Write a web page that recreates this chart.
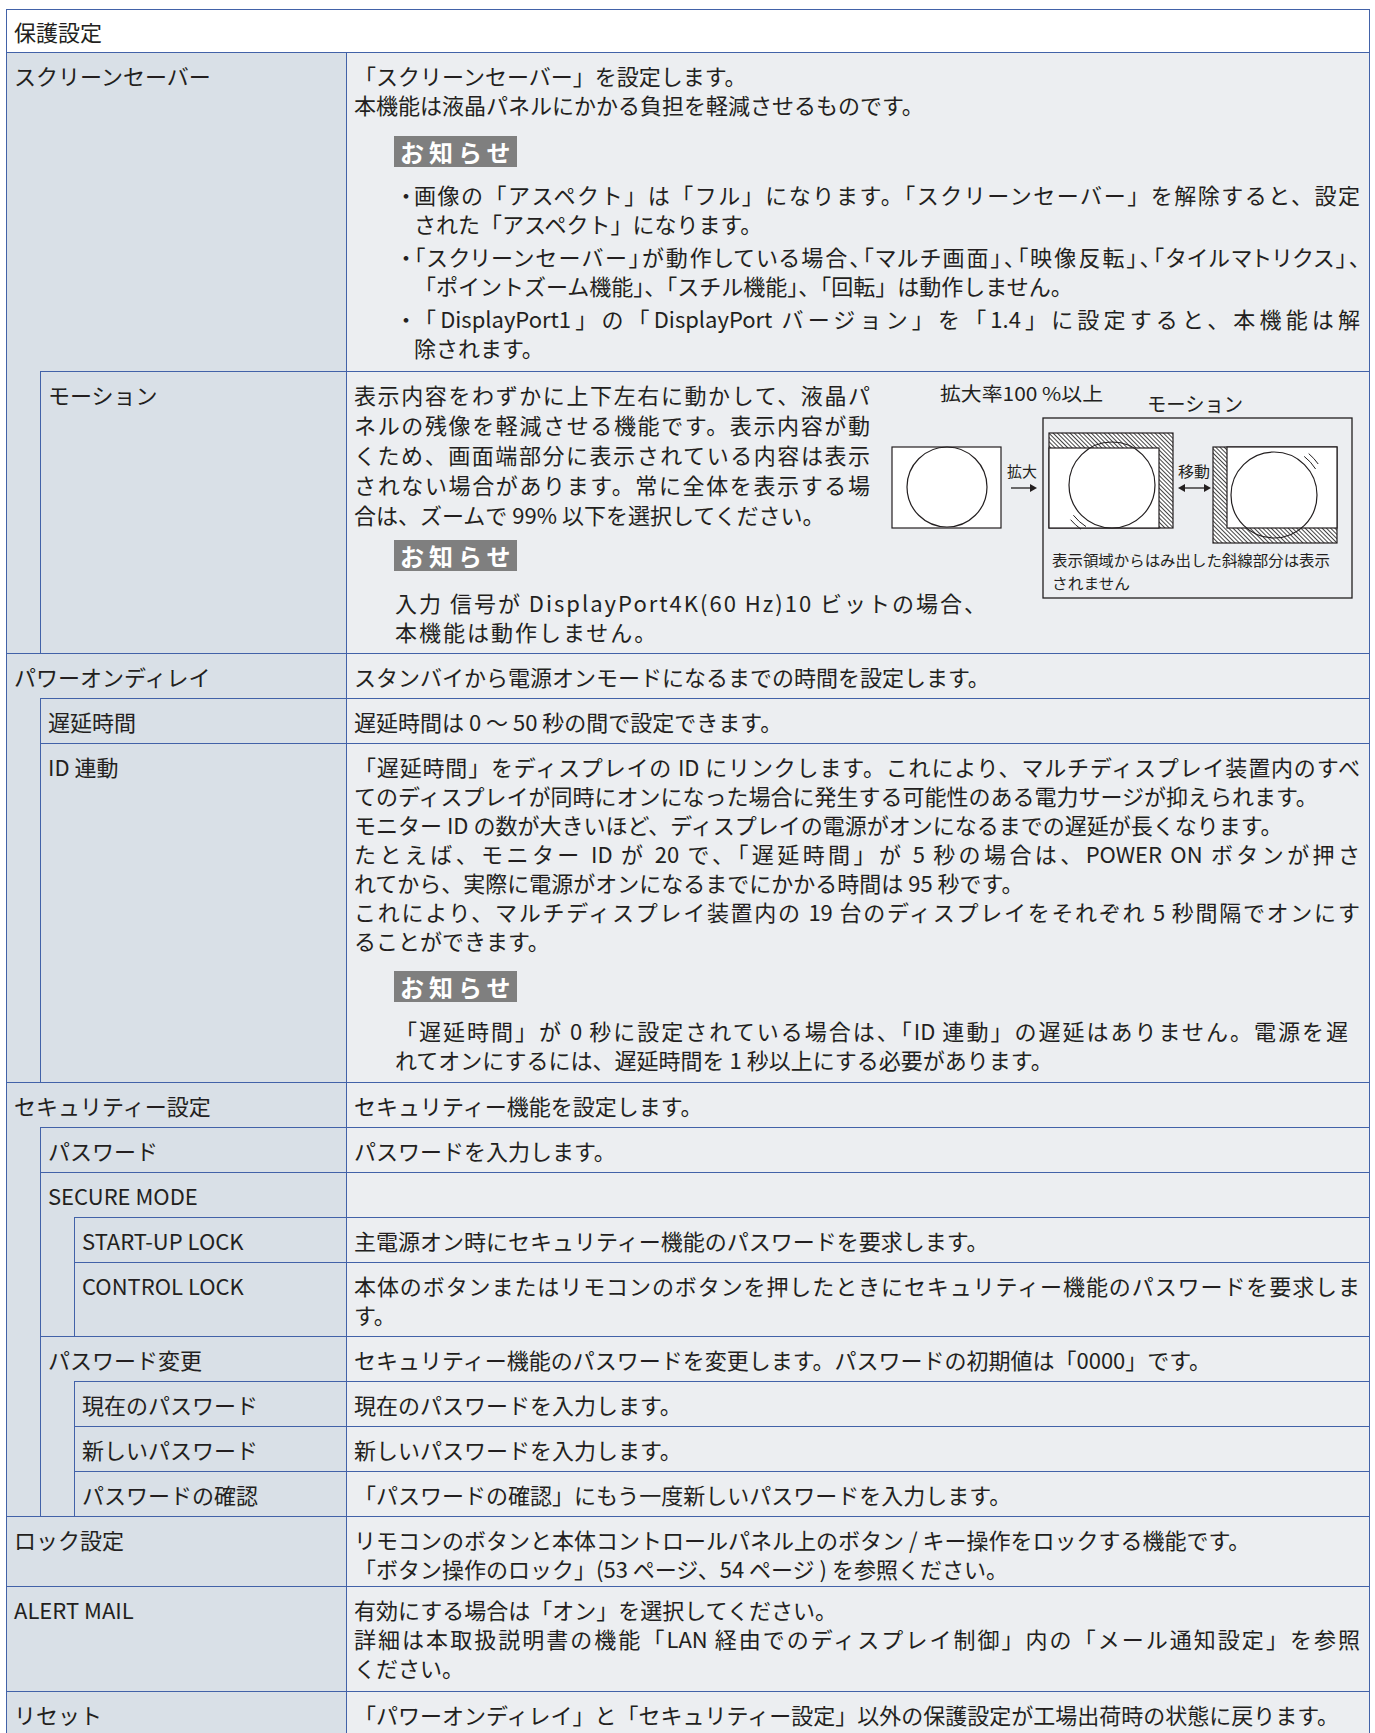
<!DOCTYPE html>
<html lang="ja">
<head>
<meta charset="utf-8">
<title>保護設定</title>
<script src="https://cdn.jsdelivr.net/npm/chart.js@4.4.1/dist/chart.umd.min.js"></script>
<style>
  html, body { margin: 0; background: #fff; overflow: hidden; }
  body {
    font-family: "Noto Sans CJK JP", "Noto Sans", sans-serif;
    color: #231f20;
    font-size: 22px;
    line-height: 29px;
  }
  #tbl {
    position: absolute; left: 6px; top: 9px; width: 1364px;
    box-sizing: border-box;
    border: 1px solid #4262a8; border-bottom: none;
  }
  .hdr { background: #fff; padding: 7px 7px 6px; }
  .row { display: flex; }
  .left { width: 339px; flex: none; display: flex; background: #d9e0e7; }
  .gut { width: 33px; flex: none; }
  .gut + .gut { border-left: 1px solid #4262a8; }
  .lab { flex: 1; border-top: 1px solid #4262a8; padding: 8px 7px 7px; white-space: nowrap; }
  .lab.sub { border-left: 1px solid #4262a8; }
  .right {
    flex: 1; position: relative; background: #eceef1;
    border-left: 1px solid #4262a8; border-top: 1px solid #4262a8;
    padding: 8px 9px 7px 7px;
  }
  .ln.j { text-align: justify; text-align-last: justify; }
  .badge {
    width: fit-content; margin-left: 40px; background: #7f7f7f; color: #fff;
    font-weight: 700; font-size: 24px; height: 31px; line-height: 31px;
    padding: 0 1px 0 6px; letter-spacing: 5px;
  }
  .note { margin-left: 41px; margin-right: 12px; }
  .bul { display: flex; margin-left: 41px; margin-top: 4px; }
  .bul .dot { width: 19px; flex: none; }
  .bul .txt { flex: 1; }
  .r0 { padding-bottom: 9px; }
  .r0 .badge { margin-top: 17px; }
  .r0 .bullets { margin-top: 13px; }
  .r1 { padding-top: 7px; }
  .r1 .motion { width: 516px; line-height: 30px; }
  .r1 .badge { margin-top: 11px; }
  .r1 .note { margin-top: 17px; letter-spacing: 2px; }
  .r4 { padding-bottom: 8px; }
  .r4 .badge { margin-top: 16px; }
  .r4 .note { margin-top: 14px; }
  .r14 { padding-bottom: 3px; }
  .r15 { padding-bottom: 9px; }
  #diagram { position: absolute; left: 533px; top: -1px; }
</style>
</head>
<body>
<div id="tbl"></div>
<script>
const sectionTitle = '保護設定';

const itemLabels = [
  'スクリーンセーバー', 'モーション', 'パワーオンディレイ', '遅延時間', 'ID 連動',
  'セキュリティー設定', 'パスワード', 'SECURE MODE', 'START-UP LOCK', 'CONTROL LOCK',
  'パスワード変更', '現在のパスワード', '新しいパスワード', 'パスワードの確認',
  'ロック設定', 'ALERT MAIL', 'リセット',
];

const itemLevels = [0, 1, 0, 1, 1, 0, 1, 1, 2, 2, 1, 2, 2, 2, 0, 0, 0];

// each item: paragraphs, each paragraph: lines as printed
const itemTexts = [
  [['「スクリーンセーバー」を設定します。'], ['本機能は液晶パネルにかかる負担を軽減させるものです。']],
  [[
    '表示内容をわずかに上下左右に動かして、液晶パ',
    'ネルの残像を軽減させる機能です。表示内容が動',
    'くため、画面端部分に表示されている内容は表示',
    'されない場合があります。常に全体を表示する場',
    '合は、ズームで 99% 以下を選択してください。',
  ]],
  [['スタンバイから電源オンモードになるまでの時間を設定します。']],
  [['遅延時間は 0 ～ 50 秒の間で設定できます。']],
  [
    ['「遅延時間」をディスプレイの ID にリンクします。これにより、マルチディスプレイ装置内のすべ',
      'てのディスプレイが同時にオンになった場合に発生する可能性のある電力サージが抑えられます。'],
    ['モニター ID の数が大きいほど、ディスプレイの電源がオンになるまでの遅延が長くなります。'],
    ['たとえば、モニター ID が 20 で、「遅延時間」が 5 秒の場合は、POWER ON ボタンが押さ',
      'れてから、実際に電源がオンになるまでにかかる時間は 95 秒です。'],
    ['これにより、マルチディスプレイ装置内の 19 台のディスプレイをそれぞれ 5 秒間隔でオンにす',
      'ることができます。'],
  ],
  [['セキュリティー機能を設定します。']],
  [['パスワードを入力します。']],
  [],
  [['主電源オン時にセキュリティー機能のパスワードを要求します。']],
  [['本体のボタンまたはリモコンのボタンを押したときにセキュリティー機能のパスワードを要求しま', 'す。']],
  [['セキュリティー機能のパスワードを変更します。パスワードの初期値は「0000」です。']],
  [['現在のパスワードを入力します。']],
  [['新しいパスワードを入力します。']],
  [['「パスワードの確認」にもう一度新しいパスワードを入力します。']],
  [['リモコンのボタンと本体コントロールパネル上のボタン / キー操作をロックする機能です。'],
    ['「ボタン操作のロック」(53 ページ、54 ページ ) を参照ください。']],
  [['有効にする場合は「オン」を選択してください。'],
    ['詳細は本取扱説明書の機能「LAN 経由でのディスプレイ制御」内の「メール通知設定」を参照', 'ください。']],
  [['「パワーオンディレイ」と「セキュリティー設定」以外の保護設定が工場出荷時の状態に戻ります。']],
];

const noteTitle = 'お知らせ';

const screenSaverBullets = [
  ['画像の「アスペクト」は「フル」になります。「スクリーンセーバー」を解除すると、設定',
    'された「アスペクト」になります。'],
  ['「スクリーンセーバー」が動作している場合、「マルチ画面」、「映像反転」、「タイルマトリクス」、',
    '「ポイントズーム機能」、「スチル機能」、「回転」は動作しません。'],
  ['「DisplayPort1」の「DisplayPort バージョン」を「1.4」に設定すると、本機能は解',
    '除されます。'],
];

const motionNote = [['入力 信号が DisplayPort4K(60 Hz)10 ビットの場合、'], ['本機能は動作しません。']];

const idNote = [['「遅延時間」が 0 秒に設定されている場合は、「ID 連動」の遅延はありません。電源を遅',
  'れてオンにするには、遅延時間を 1 秒以上にする必要があります。']];

const diagramTitles = ['拡大率100 %以上', 'モーション'];
const diagramArrows = ['拡大', '移動'];
const diagramCaption = ['表示領域からはみ出した斜線部分は表示', 'されません'];

const tbl = document.getElementById('tbl');

function el(tag, cls, text) {
  const e = document.createElement(tag);
  if (cls) e.className = cls;
  if (text !== undefined) e.textContent = text;
  return e;
}

function addParagraphs(parent, paragraphs) {
  paragraphs.forEach((lines) => {
    lines.forEach((line, i) => {
      parent.appendChild(el('div', i < lines.length - 1 ? 'ln j' : 'ln', line));
    });
  });
}

function diagramSvg() {
  const k = '#231f20';
  const arc = (cx, cy, r, a0, a1) => {
    const p = (a) => `${(cx + r * Math.cos(a * Math.PI / 180)).toFixed(1)} ${(cy + r * Math.sin(a * Math.PI / 180)).toFixed(1)}`;
    return `<path d="M ${p(a0)} A ${r} ${r} 0 0 1 ${p(a1)}" fill="none" stroke="${k}" stroke-width="1"/>`;
  };
  return `
  <svg id="diagram" width="480" height="282" xmlns="http://www.w3.org/2000/svg"
       font-family="Noto Sans CJK JP, sans-serif" fill="${k}">
    <defs>
      <pattern id="hatch" patternUnits="userSpaceOnUse" width="3" height="3" patternTransform="rotate(-45)">
        <rect width="3" height="3" fill="#fff"/>
        <line x1="0" y1="0" x2="0" y2="3" stroke="#222" stroke-width="1.7"/>
      </pattern>
    </defs>
    <text x="60" y="30" font-size="19" textLength="163" lengthAdjust="spacingAndGlyphs">${diagramTitles[0]}</text>
    <text x="267" y="41" font-size="20" textLength="96" lengthAdjust="spacingAndGlyphs">${diagramTitles[1]}</text>
    <rect x="163" y="47" width="309" height="180" fill="none" stroke="${k}" stroke-width="1.3"/>

    <rect x="12" y="76" width="109" height="81" fill="#fff" stroke="${k}" stroke-width="1.2"/>
    <ellipse cx="67" cy="116" rx="40" ry="40" fill="none" stroke="${k}" stroke-width="1.2"/>

    <text x="127" y="106" font-size="15" textLength="30" lengthAdjust="spacingAndGlyphs">${diagramArrows[0]}</text>
    <path d="M 131 117 H 151" stroke="${k}" stroke-width="1.3"/>
    <path d="M 150 113 L 157 117 L 150 121 Z"/>

    <rect x="169" y="62" width="124" height="95" fill="url(#hatch)" stroke="${k}" stroke-width="1.2"/>
    <rect x="169" y="77" width="110" height="80" fill="#fff" stroke="${k}" stroke-width="1.2"/>
    <circle cx="232" cy="114" r="43" fill="none" stroke="${k}" stroke-width="1.2"/>
    ${arc(232, 114, 49, 122, 142)}
    ${arc(232, 114, 54, 125, 140)}

    <text x="298" y="106" font-size="15" textLength="32" lengthAdjust="spacingAndGlyphs">${diagramArrows[1]}</text>
    <path d="M 303 117 H 326" stroke="${k}" stroke-width="1.3"/>
    <path d="M 305 113 L 298 117 L 305 121 Z"/>
    <path d="M 324 113 L 331 117 L 324 121 Z"/>

    <rect x="333" y="76" width="124" height="96" fill="url(#hatch)" stroke="${k}" stroke-width="1.2"/>
    <rect x="347" y="76" width="110" height="81" fill="#fff" stroke="${k}" stroke-width="1.2"/>
    <circle cx="394" cy="124" r="43" fill="none" stroke="${k}" stroke-width="1.2"/>
    ${arc(394, 124, 49, -52, -32)}
    ${arc(394, 124, 54, -50, -35)}

    <text x="172" y="195" font-size="15" textLength="278" lengthAdjust="spacingAndGlyphs">${diagramCaption[0]}</text>
    <text x="172" y="218" font-size="15" textLength="78" lengthAdjust="spacingAndGlyphs">${diagramCaption[1]}</text>
  </svg>`;
}

tbl.appendChild(el('div', 'hdr', sectionTitle));

itemLabels.forEach((label, i) => {
  const level = itemLevels[i];
  const row = el('div', 'row');
  const left = el('div', 'left');
  for (let g = 0; g < level; g++) left.appendChild(el('div', 'gut'));
  left.appendChild(el('div', level > 0 ? 'lab sub' : 'lab', label));
  row.appendChild(left);

  const right = el('div', 'right r' + i);
  if (i === 1) {
    const motion = el('div', 'motion');
    addParagraphs(motion, itemTexts[i]);
    right.appendChild(motion);
  } else {
    addParagraphs(right, itemTexts[i]);
  }

  if (i === 0) {
    right.appendChild(el('div', 'badge', noteTitle));
    const list = el('div', 'bullets');
    screenSaverBullets.forEach((lines) => {
      const b = el('div', 'bul');
      b.appendChild(el('div', 'dot', '・'));
      const t = el('div', 'txt');
      addParagraphs(t, [lines]);
      b.appendChild(t);
      list.appendChild(b);
    });
    right.appendChild(list);
  }
  if (i === 1 || i === 4) {
    right.appendChild(el('div', 'badge', noteTitle));
    const note = el('div', 'note');
    addParagraphs(note, i === 1 ? motionNote : idNote);
    right.appendChild(note);
  }
  if (i === 1) right.insertAdjacentHTML('beforeend', diagramSvg());
  if (itemTexts[i].length === 0) right.appendChild(el('div', 'ln', '\u00a0'));

  row.appendChild(right);
  tbl.appendChild(row);
});

// squeeze any printed line that would wrap in this font
document.querySelectorAll('.ln').forEach((line) => {
  const lh = parseFloat(getComputedStyle(line).lineHeight);
  if (line.offsetHeight <= lh + 1) return;
  line.style.fontFeatureSettings = '"palt"';
  let ls = 0;
  while (line.offsetHeight > lh + 1 && ls > -3) {
    ls -= 0.1;
    line.style.letterSpacing = ls.toFixed(2) + 'px';
  }
});
</script>
</body>
</html>
